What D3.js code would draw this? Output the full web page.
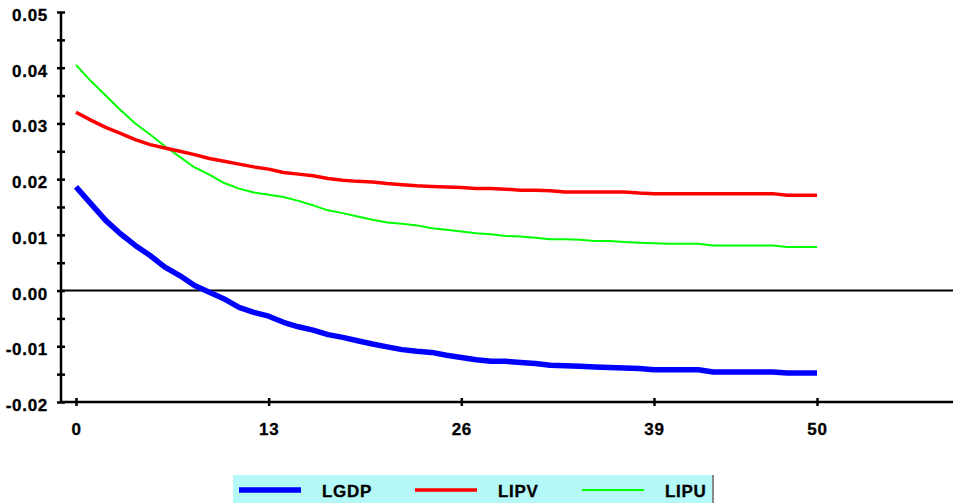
<!DOCTYPE html>
<html>
<head>
<meta charset="utf-8">
<script src="https://cdn.jsdelivr.net/npm/d3@7"></script>
<style>
  body { margin: 0; background: #fff; }
  svg text { font-family: "Liberation Sans", Arial, Helvetica, sans-serif; font-weight: bold; font-size: 17px; letter-spacing: 0.7px; fill: #000; stroke: #000; stroke-width: 0.3px; }
</style>
</head>
<body>
<div id="chart"></div>
<script>
// periods 0..50
const periods = d3.range(0, 51);

const lgdp = [0.0186, 0.0156, 0.0126, 0.0102, 0.0081, 0.0063, 0.0042, 0.0027, 0.0009, -0.0003,
  -0.0015, -0.0030, -0.0039, -0.0046, -0.0057, -0.0065, -0.0071, -0.0079, -0.0084, -0.0090,
  -0.0096, -0.0101, -0.0106, -0.0109, -0.0111, -0.0116, -0.0120, -0.0124, -0.0127, -0.0127,
  -0.0129, -0.0131, -0.0134, -0.0135, -0.0136, -0.0137, -0.0138, -0.0139, -0.0140, -0.0142,
  -0.0142, -0.0142, -0.0142, -0.0146, -0.0146, -0.0146, -0.0146, -0.0146, -0.0148, -0.0148, -0.0148];

const lipv = [0.0320, 0.0306, 0.0293, 0.0282, 0.0271, 0.0262, 0.0256, 0.0250, 0.0244, 0.0237,
  0.0232, 0.0227, 0.0222, 0.0218, 0.0212, 0.0209, 0.0206, 0.0201, 0.0198, 0.0196,
  0.0195, 0.0192, 0.0190, 0.0188, 0.0187, 0.0186, 0.0185, 0.0183, 0.0183, 0.0182,
  0.0180, 0.0180, 0.0179, 0.0177, 0.0177, 0.0177, 0.0177, 0.0177, 0.0175, 0.0174,
  0.0174, 0.0174, 0.0174, 0.0174, 0.0174, 0.0174, 0.0174, 0.0174, 0.0171, 0.0171, 0.0171];

const lipu = [0.0405, 0.0376, 0.0350, 0.0324, 0.0300, 0.0280, 0.0259, 0.0240, 0.0221, 0.0208,
  0.0193, 0.0183, 0.0176, 0.0172, 0.0168, 0.0161, 0.0153, 0.0144, 0.0139, 0.0133,
  0.0127, 0.0122, 0.0120, 0.0117, 0.0112, 0.0109, 0.0106, 0.0103, 0.0101, 0.0098,
  0.0097, 0.0095, 0.0092, 0.0092, 0.0091, 0.0089, 0.0089, 0.0087, 0.0086, 0.0085,
  0.0084, 0.0084, 0.0084, 0.0081, 0.0081, 0.0081, 0.0081, 0.0081, 0.0078, 0.0078, 0.0078];

const seriesNames = ["LGDP", "LIPV", "LIPU"];
const seriesValues = [lgdp, lipv, lipu];
const seriesColors = ["#0000ff", "#ff0000", "#00ff00"];
const seriesWidths = [5.5, 3.5, 2];

const xTicks = [0, 13, 26, 39, 50];
const yTicks = d3.range(-0.02, 0.0501, 0.005).map(d => +d.toFixed(3));

const width = 953;
const height = 503;

const svg = d3.select("#chart")
  .append("svg")
  .attr("width", width)
  .attr("height", height);

const xScale = d3.scaleLinear()
  .domain([0, 50])
  .range([76, 817]);

const yScale = d3.scaleLinear()
  .domain([-0.02, 0.05])
  .range([402, 12]);

const axisX0 = 61;

// x axis
const xAxis = d3.axisBottom(xScale)
  .tickValues(xTicks)
  .tickSize(4)
  .tickPadding(17)
  .tickSizeOuter(0);

const gx = svg.append("g")
  .attr("transform", `translate(0, ${yScale(-0.02)})`)
  .call(xAxis);
gx.attr("font-size", null).attr("font-family", null);
gx.select(".domain").remove();
gx.append("line")
  .attr("x1", axisX0).attr("x2", width)
  .attr("y1", 0).attr("y2", 0)
  .attr("stroke", "#000").attr("stroke-width", 2.5);
gx.selectAll(".tick line")
  .attr("y1", -4).attr("y2", 4)
  .attr("stroke-width", 2.5);

// y axis
const yAxis = d3.axisLeft(yScale)
  .tickValues(yTicks)
  .tickSize(4)
  .tickPadding(9)
  .tickSizeOuter(0)
  .tickFormat(d => (Math.round(d * 1000) % 10 === 0 ? d.toFixed(2) : ""));

const gy = svg.append("g")
  .attr("transform", `translate(${axisX0}, 0)`)
  .call(yAxis);
gy.attr("font-size", null).attr("font-family", null);
gy.select(".domain").remove();
gy.append("line")
  .attr("x1", 0).attr("x2", 0)
  .attr("y1", yScale(0.05)).attr("y2", yScale(-0.02))
  .attr("stroke", "#000").attr("stroke-width", 2.5);
gy.selectAll(".tick line")
  .attr("x1", -4).attr("x2", 4)
  .attr("stroke-width", 2.5);
gy.selectAll(".tick text")
  .attr("dy", "0.5em");

// zero line
svg.append("line")
  .attr("x1", axisX0).attr("x2", width)
  .attr("y1", yScale(0)).attr("y2", yScale(0))
  .attr("stroke", "#000").attr("stroke-width", 2);

// series lines
const line = d3.line()
  .x((d, i) => xScale(periods[i]))
  .y(d => yScale(d));

[2, 1, 0].forEach(k => {
  svg.append("path")
    .datum(seriesValues[k])
    .attr("fill", "none")
    .attr("stroke", seriesColors[k])
    .attr("stroke-width", seriesWidths[k])
    .attr("stroke-linejoin", "round")
    .attr("d", line);
});

// legend
const legend = svg.append("g");
legend.append("rect")
  .attr("x", 233).attr("y", 475)
  .attr("width", 480).attr("height", 30)
  .attr("fill", "#b5f8f8");
legend.append("line")
  .attr("x1", 713).attr("x2", 713)
  .attr("y1", 475).attr("y2", 503)
  .attr("stroke", "#8a8a8a").attr("stroke-width", 2);

const legendX = [239, 415, 582];
seriesNames.forEach((name, k) => {
  const lx = legendX[k];
  legend.append("line")
    .attr("x1", lx).attr("x2", lx + 62)
    .attr("y1", 490).attr("y2", 490)
    .attr("stroke", seriesColors[k])
    .attr("stroke-width", seriesWidths[k]);
  legend.append("text")
    .attr("x", lx + 83)
    .attr("y", 497)
    .text(name);
});
</script>
</body>
</html>
